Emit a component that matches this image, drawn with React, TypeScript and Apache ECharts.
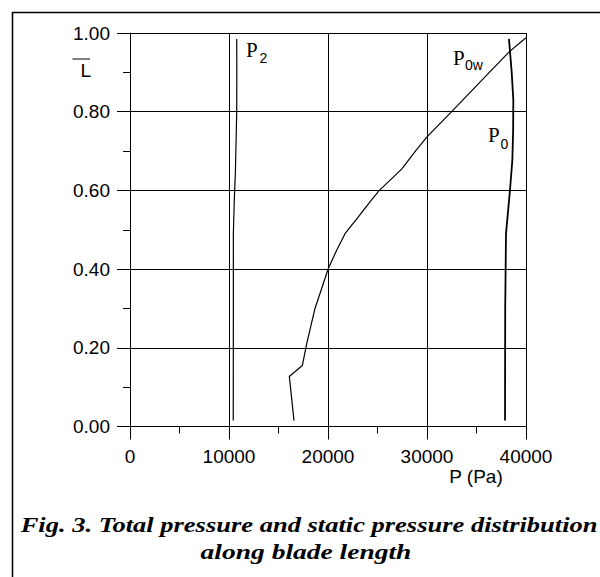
import React, { useEffect, useRef } from "react";
import * as echarts from "echarts";

// ---- data ----
const xTicks = [0, 10000, 20000, 30000, 40000];
const yTicks = [0, 0.2, 0.4, 0.6, 0.8, 1.0];

// P2 (static pressure)
const lengthP2 = [0.015, 0.3, 0.49, 0.575, 0.65, 0.8, 0.9, 0.985];
const pressureP2 = [10430, 10440, 10440, 10535, 10650, 10780, 10790, 10780];

// P0 (total pressure)
const lengthP0 = [0.015, 0.3, 0.49, 0.6, 0.677, 0.75, 0.83, 0.9, 0.985];
const pressureP0 = [37880, 37900, 37980, 38380, 38620, 38700, 38720, 38555, 38280];

// P0w (total pressure, relative)
const lengthP0w = [0.015, 0.127, 0.155, 0.21, 0.3, 0.376, 0.401, 0.448, 0.49, 0.533, 0.571, 0.6, 0.654, 0.702, 0.736, 0.8, 0.9, 0.952, 0.988];
const pressureP0w = [16566, 16094, 17407, 17845, 18687, 19697, 20020, 20875, 21717, 23064, 24242, 25185, 27441, 28889, 30000, 32490, 36300, 38300, 40000];

const xName = "P (Pa)";
const yName = "L";
const captionLine1 = "Fig. 3. Total pressure and static pressure distribution";
const captionLine2 = "along blade length";

const zip = (xs: number[], ys: number[]) => xs.map((x, i) => [x, ys[i]]);

const SANS = "Liberation Sans";
const SERIF = "Liberation Serif";

export default function App() {
  const ref = useRef<HTMLDivElement>(null);
  useEffect(() => {
    if (!ref.current) return;
    const chart = echarts.init(ref.current, null, { renderer: "svg" });
    const axisCommon = {
      axisLine: { show: true, lineStyle: { color: "#000", width: 1 } },
      axisTick: { show: true, length: 13, lineStyle: { color: "#000", width: 1 } },
      minorTick: { show: true, splitNumber: 2, length: 7, lineStyle: { color: "#000", width: 1 } },
      splitLine: { show: true, lineStyle: { color: "#000", width: 1 } },
    };
    const txt = (x: number, y: number, text: string, size: number, family: string, extra: any = {}) => ({
      type: "text",
      x,
      y,
      scaleX: extra.scaleX || 1,
      style: {
        text,
        fontSize: size,
        fontFamily: family,
        fontStyle: extra.fontStyle || "normal",
        fontWeight: extra.fontWeight || "normal",
        fill: "#000",
        textAlign: extra.align || "left",
        textVerticalAlign: "middle",
      },
    });
    const option: any = {
      animation: false,
      backgroundColor: "#fff",
      grid: { left: 130, top: 33, right: 74, bottom: 150.5, containLabel: false },
      xAxis: {
        type: "value",
        min: xTicks[0],
        max: xTicks[xTicks.length - 1],
        interval: xTicks[1] - xTicks[0],
        ...axisCommon,
        axisLabel: {
          color: "#000",
          fontSize: 19,
          fontFamily: SANS,
          margin: 20,
          formatter: (v: number) => String(v),
        },
      },
      yAxis: {
        type: "value",
        min: yTicks[0],
        max: yTicks[yTicks.length - 1],
        interval: 0.2,
        ...axisCommon,
        axisLabel: {
          color: "#000",
          fontSize: 19,
          fontFamily: SANS,
          margin: 20,
          formatter: (v: number) => v.toFixed(2),
        },
      },
      series: [
        {
          type: "line",
          name: "P2",
          data: zip(pressureP2, lengthP2),
          showSymbol: false,
          symbol: "none",
          lineStyle: { color: "#000", width: 1.2 },
        },
        {
          type: "line",
          name: "P0",
          data: zip(pressureP0, lengthP0),
          showSymbol: false,
          symbol: "none",
          lineStyle: { color: "#000", width: 1.8 },
        },
        {
          type: "line",
          name: "P0w",
          data: zip(pressureP0w, lengthP0w),
          showSymbol: false,
          symbol: "none",
          lineStyle: { color: "#000", width: 1.2 },
        },
      ],
      graphic: [
        {
          type: "rect",
          shape: { x: 12.5, y: 12.5, width: 700, height: 700 },
          style: { fill: "none", stroke: "#000", lineWidth: 1.6 },
          silent: true,
        },
        // y axis name with overline
        txt(80.5, 70, yName, 19, SANS),
        {
          type: "line",
          shape: { x1: 72.5, y1: 59, x2: 90, y2: 59 },
          style: { stroke: "#000", lineWidth: 1 },
        },
        // x axis name
        txt(476, 476.5, xName, 19, SANS, { align: "center" }),
        // curve labels
        txt(246, 49.5, "P", 21, SERIF),
        txt(259.5, 58, "2", 14, SANS),
        txt(453, 58, "P", 21, SERIF),
        txt(465, 65, "0w", 14, SANS),
        txt(488, 134.5, "P", 21, SERIF),
        txt(500.5, 144, "0", 14, SANS),
        // caption
        txt(20.7, 524.3, captionLine1, 22, SERIF, { fontStyle: "italic", fontWeight: "bold", scaleX: 1.205 }),
        txt(306, 551, captionLine2, 22, SERIF, { fontStyle: "italic", fontWeight: "bold", scaleX: 1.25, align: "center" }),
      ],
    };
    chart.setOption(option);
    return () => chart.dispose();
  }, []);
  return (
    <div
      ref={ref}
      style={{ position: "fixed", left: 0, top: 0, width: 600, height: 577, background: "#fff" }}
    />
  );
}
